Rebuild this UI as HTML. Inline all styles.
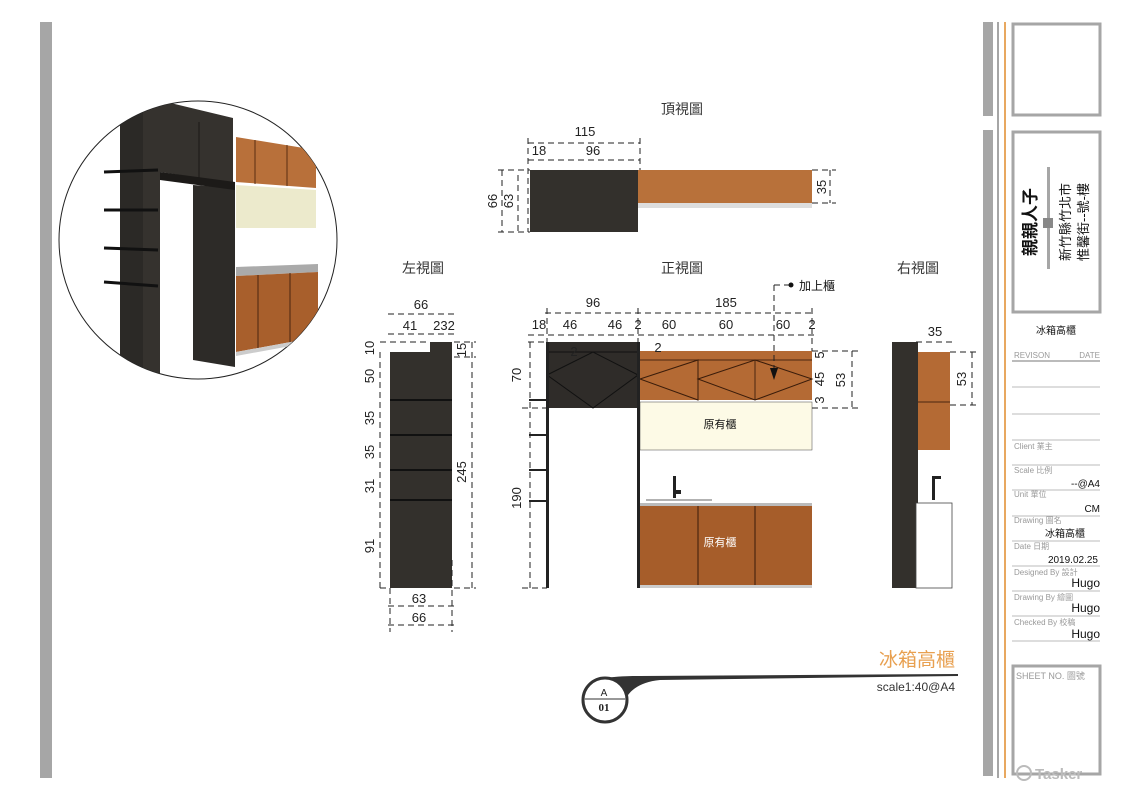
<!DOCTYPE html>
<html><head><meta charset="utf-8"><style>
body{margin:0;background:#fff;}
svg{display:block;font-family:"Liberation Sans","Noto Sans CJK TC",sans-serif;}
</style></head><body>
<svg width="1122" height="793" viewBox="0 0 1122 793" xmlns="http://www.w3.org/2000/svg">
<defs>
<clipPath id="cc"><circle cx="198" cy="240" r="139"/></clipPath>
</defs>
<rect width="1122" height="793" fill="#fff"/>
<rect x="40" y="22" width="12" height="756" fill="#a6a6a6"/>
<rect x="983" y="22" width="10" height="94" fill="#a6a6a6"/>
<rect x="983" y="130" width="10" height="646" fill="#a6a6a6"/>
<rect x="997" y="22" width="2" height="756" fill="#a6a6a6"/>
<rect x="1004" y="22" width="2" height="756" fill="#e8a860"/>
<rect x="1013" y="24" width="87" height="91" fill="none" stroke="#a6a6a6" stroke-width="3"/>
<rect x="1013" y="132" width="87" height="180" fill="none" stroke="#a6a6a6" stroke-width="3"/>
<rect x="1047" y="167" width="3" height="102" fill="#a6a6a6"/>
<rect x="1043" y="218" width="10" height="10" fill="#888"/>
<text transform="translate(1036,222) rotate(-90)" text-anchor="middle" font-size="17" font-weight="bold" fill="#111">親親人子</text>
<text transform="translate(1070,222) rotate(-90)" text-anchor="middle" font-size="13" fill="#111">新竹縣竹北市</text>
<text transform="translate(1088,222) rotate(-90)" text-anchor="middle" font-size="13" fill="#111">惟馨街--號-樓</text>
<text x="1056" y="334" text-anchor="middle" font-size="10" fill="#111">冰箱高櫃</text>
<g font-size="8" fill="#999">
<text x="1014" y="358">REVISON</text><text x="1100" y="358" text-anchor="end">DATE</text>
<text x="1014" y="449">Client  業主</text>
<text x="1014" y="473">Scale   比例</text>
<text x="1014" y="497">Unit    單位</text>
<text x="1014" y="523">Drawing 圖名</text>
<text x="1014" y="549">Date    日期</text>
<text x="1014" y="575">Designed By 設計</text>
<text x="1014" y="600">Drawing By 繪圖</text>
<text x="1014" y="625">Checked By 校稿</text>
</g>
<g font-size="10" fill="#111" text-anchor="end">
<text x="1100" y="487">--@A4</text>
<text x="1100" y="512">CM</text>
<text x="1085" y="537">冰箱高櫃</text>
<text x="1098" y="563">2019.02.25</text>
<text x="1100" y="587" font-size="12">Hugo</text>
<text x="1100" y="612" font-size="12">Hugo</text>
<text x="1100" y="638" font-size="12">Hugo</text>
</g>
<g stroke="#bbb" stroke-width="1">
<line x1="1012" y1="361" x2="1100" y2="361" stroke-width="2"/>
<line x1="1012" y1="387" x2="1100" y2="387"/><line x1="1012" y1="414" x2="1100" y2="414"/>
<line x1="1012" y1="440" x2="1100" y2="440"/><line x1="1012" y1="465" x2="1100" y2="465"/>
<line x1="1012" y1="490" x2="1100" y2="490"/><line x1="1012" y1="516" x2="1100" y2="516"/>
<line x1="1012" y1="541" x2="1100" y2="541"/><line x1="1012" y1="566" x2="1100" y2="566"/>
<line x1="1012" y1="591" x2="1100" y2="591"/><line x1="1012" y1="616" x2="1100" y2="616"/>
<line x1="1012" y1="641" x2="1100" y2="641"/>
</g>
<rect x="1013" y="666" width="87" height="108" fill="none" stroke="#a6a6a6" stroke-width="3"/>
<text x="1016" y="679" font-size="9" fill="#999">SHEET NO. 圖號</text>
<text x="1035" y="779" font-size="15" font-weight="bold" fill="#bbb">Tasker</text>
<circle cx="1024" cy="773" r="7" fill="none" stroke="#bbb" stroke-width="2"/>

<!-- circle perspective -->
<circle cx="198" cy="240" r="139" fill="#fff" stroke="#222" stroke-width="1"/>
<g clip-path="url(#cc)">
<polygon points="236,137 316,150 316,188 236,182" fill="#b8703a"/>
<line x1="255" y1="140" x2="255" y2="184" stroke="#5a2e12"/><line x1="287" y1="145" x2="287" y2="186" stroke="#5a2e12"/>
<polygon points="236,185 316,190 316,228 236,228" fill="#eceacc"/>
<polygon points="236,267 318,264 318,272 236,276" fill="#aaa"/>
<polygon points="236,276 318,272 318,337 236,352" fill="#a85f2c"/>
<line x1="258" y1="275" x2="258" y2="348" stroke="#4a2510"/><line x1="290" y1="273" x2="290" y2="343" stroke="#4a2510"/>
<polygon points="236,352 318,337 318,341 236,356" fill="#ccc"/>
<polygon points="120,123 143,112 143,385 160,390 120,380" fill="#2b2926"/>
<polygon points="143,103 158,100 233,118 233,183 160,172 160,390 143,385" fill="#35322e"/>
<polygon points="193,185 235,188 235,367 193,360" fill="#2d2b28"/>
<polygon points="160,172 235,182 235,190 160,180" fill="#1c1a18"/>
<line x1="199" y1="122" x2="199" y2="178" stroke="#1a1816"/>
<g stroke="#111" stroke-width="3"><line x1="104" y1="172" x2="158" y2="170"/><line x1="104" y1="210" x2="158" y2="210"/><line x1="104" y1="248" x2="158" y2="250"/><line x1="104" y1="282" x2="158" y2="286"/></g>
</g>

<g font-size="14" fill="#333" text-anchor="middle">
<text x="682" y="114">頂視圖</text><text x="682" y="273">正視圖</text>
<text x="423" y="273">左視圖</text><text x="918" y="273">右視圖</text>
</g>

<!-- TOP VIEW -->
<rect x="530" y="170" width="108" height="62" fill="#33302c"/>
<rect x="638" y="170" width="174" height="33" fill="#b8713a"/>
<rect x="638" y="203" width="174" height="5" fill="#ddd"/>
<g stroke="#222" stroke-width="1" stroke-dasharray="6,4" fill="none">
<line x1="528" y1="143" x2="640" y2="143"/><line x1="528" y1="160" x2="640" y2="160"/>
<line x1="528" y1="138" x2="528" y2="232"/><line x1="640" y1="138" x2="640" y2="170"/>
<line x1="498" y1="170" x2="530" y2="170"/><line x1="498" y1="232" x2="530" y2="232"/>
<line x1="502" y1="170" x2="502" y2="232"/><line x1="518" y1="175" x2="518" y2="232"/>
<line x1="812" y1="170" x2="836" y2="170"/><line x1="812" y1="203" x2="836" y2="203"/><line x1="830" y1="170" x2="830" y2="203"/>
</g>
<g font-size="13" fill="#222" text-anchor="middle">
<text x="585" y="136">115</text><text x="539" y="155">18</text><text x="593" y="155">96</text>
<text transform="translate(497,201) rotate(-90)">66</text><text transform="translate(513,201) rotate(-90)">63</text>
<text transform="translate(826,187) rotate(-90)">35</text>
</g>

<!-- FRONT VIEW -->
<rect x="547" y="342" width="91" height="66" fill="#2f2c29"/>
<polygon points="547,375 593,352 638,375 593,408" fill="none" stroke="#111"/>
<line x1="547" y1="352" x2="638" y2="352" stroke="#111"/>
<rect x="640" y="351" width="172" height="49" fill="#b46a34"/>
<line x1="640" y1="360" x2="812" y2="360" stroke="#4a2510"/>
<line x1="698" y1="360" x2="698" y2="400" stroke="#4a2510"/><line x1="755" y1="360" x2="755" y2="400" stroke="#4a2510"/>
<polygon points="640,379 698,360 698,400" fill="none" stroke="#3a1c0a"/>
<polygon points="698,379 755,360 812,379 755,400" fill="none" stroke="#3a1c0a"/>
<rect x="640" y="402" width="172" height="48" fill="#fdfae6" stroke="#444" stroke-width="0.5"/>
<text x="720" y="428" font-size="11" text-anchor="middle" fill="#111">原有櫃</text>
<line x1="646" y1="500" x2="712" y2="500" stroke="#666"/>
<rect x="673" y="476" width="3" height="22" fill="#222"/><rect x="673" y="490" width="8" height="4" fill="#222"/>
<rect x="640" y="503" width="172" height="3" fill="#bbb"/>
<rect x="640" y="506" width="172" height="79" fill="#a65d2a"/>
<line x1="698" y1="506" x2="698" y2="585" stroke="#3a1c0a"/><line x1="755" y1="506" x2="755" y2="585" stroke="#3a1c0a"/>
<rect x="640" y="585" width="172" height="3" fill="#ccc"/>
<text x="720" y="546" font-size="11" text-anchor="middle" fill="#fff">原有櫃</text>
<rect x="546" y="342" width="3" height="246" fill="#222"/>
<rect x="637" y="342" width="3" height="246" fill="#222"/>
<g stroke="#222" stroke-width="2"><line x1="529" y1="400" x2="547" y2="400"/><line x1="529" y1="435" x2="547" y2="435"/><line x1="529" y1="470" x2="547" y2="470"/><line x1="529" y1="501" x2="547" y2="501"/></g>
<g stroke="#222" stroke-width="1" stroke-dasharray="6,4" fill="none">
<line x1="545" y1="313" x2="815" y2="313"/><line x1="528" y1="335" x2="815" y2="335"/>
<line x1="547" y1="308" x2="547" y2="342"/><line x1="638" y1="308" x2="638" y2="342"/><line x1="812" y1="308" x2="812" y2="351"/>
<line x1="528" y1="342" x2="547" y2="342"/><line x1="522" y1="408" x2="547" y2="408"/><line x1="522" y1="588" x2="547" y2="588"/>
<line x1="530" y1="342" x2="530" y2="588"/>
<line x1="774" y1="285" x2="774" y2="370"/><line x1="774" y1="285" x2="790" y2="285"/>
<line x1="812" y1="351" x2="858" y2="351"/><line x1="812" y1="408" x2="858" y2="408"/><line x1="852" y1="351" x2="852" y2="408"/>
</g>
<polygon points="770,368 778,368 774,380" fill="#111"/><circle cx="791" cy="285" r="2.5" fill="#111"/>
<text x="799" y="290" font-size="12" fill="#111">加上櫃</text>
<g font-size="13" fill="#222" text-anchor="middle">
<text x="593" y="307">96</text><text x="726" y="307">185</text>
<text x="539" y="329">18</text><text x="570" y="329">46</text><text x="615" y="329">46</text><text x="638" y="329">2</text>
<text x="669" y="329">60</text><text x="726" y="329">60</text><text x="783" y="329">60</text><text x="812" y="329">2</text>
<text x="574" y="356">2</text><text x="658" y="352">2</text>
<text transform="translate(521,375) rotate(-90)">70</text><text transform="translate(521,498) rotate(-90)">190</text>
<text transform="translate(824,355) rotate(-90)">5</text><text transform="translate(824,379) rotate(-90)">45</text>
<text transform="translate(824,400) rotate(-90)">3</text><text transform="translate(845,380) rotate(-90)">53</text>
</g>

<!-- LEFT VIEW -->
<polygon points="390,352 430,352 430,342 452,342 452,588 390,588" fill="#33302c"/>
<g stroke="#111" stroke-width="2"><line x1="390" y1="400" x2="452" y2="400"/><line x1="390" y1="435" x2="452" y2="435"/><line x1="390" y1="470" x2="452" y2="470"/><line x1="390" y1="500" x2="452" y2="500"/></g>
<g stroke="#222" stroke-width="1" stroke-dasharray="6,4" fill="none">
<line x1="388" y1="314" x2="454" y2="314"/><line x1="388" y1="334" x2="454" y2="334"/>
<line x1="380" y1="342" x2="430" y2="342"/><line x1="380" y1="352" x2="380" y2="588"/><line x1="380" y1="588" x2="390" y2="588"/>
<line x1="454" y1="342" x2="476" y2="342"/><line x1="454" y1="357" x2="476" y2="357"/>
<line x1="472" y1="342" x2="472" y2="588"/><line x1="454" y1="588" x2="476" y2="588"/>
<line x1="388" y1="606" x2="454" y2="606"/><line x1="388" y1="625" x2="454" y2="625"/>
<line x1="390" y1="588" x2="390" y2="632"/><line x1="452" y1="560" x2="452" y2="632"/>
</g>
<g font-size="13" fill="#222" text-anchor="middle">
<text x="421" y="309">66</text><text x="410" y="330">41</text><text x="444" y="330">232</text>
<text transform="translate(374,348) rotate(-90)">10</text><text transform="translate(466,350) rotate(-90)">15</text>
<text transform="translate(374,376) rotate(-90)">50</text><text transform="translate(374,418) rotate(-90)">35</text>
<text transform="translate(374,452) rotate(-90)">35</text><text transform="translate(374,486) rotate(-90)">31</text>
<text transform="translate(374,546) rotate(-90)">91</text><text transform="translate(466,472) rotate(-90)">245</text>
<text x="419" y="603">63</text><text x="419" y="622">66</text>
</g>

<!-- RIGHT VIEW -->
<rect x="892" y="342" width="26" height="246" fill="#33302c"/>
<rect x="918" y="352" width="32" height="98" fill="#b46a34"/>
<line x1="918" y1="402" x2="950" y2="402" stroke="#4a2510"/>
<rect x="916" y="503" width="36" height="85" fill="#fff" stroke="#444" stroke-width="0.8"/>
<rect x="932" y="478" width="3" height="22" fill="#222"/><rect x="932" y="476" width="9" height="3" fill="#222"/>
<g stroke="#222" stroke-width="1" stroke-dasharray="6,4" fill="none">
<line x1="916" y1="342" x2="952" y2="342"/><line x1="950" y1="352" x2="978" y2="352"/><line x1="950" y1="405" x2="978" y2="405"/><line x1="972" y1="352" x2="972" y2="405"/>
</g>
<g font-size="13" fill="#222" text-anchor="middle">
<text x="935" y="336">35</text><text transform="translate(966,379) rotate(-90)">53</text>
</g>

<!-- bottom title -->
<path d="M605,678 C620,676 630,676 640,676 L958,674 L958,676 L660,680 C640,682 630,690 625,700 Z" fill="#333"/>
<circle cx="605" cy="700" r="22" fill="#fff" stroke="#333" stroke-width="3"/>
<line x1="584" y1="699" x2="626" y2="699" stroke="#777" stroke-width="1.5"/>
<text x="604" y="696" font-size="10" text-anchor="middle" fill="#222">A</text>
<text x="604" y="711" font-size="11" font-weight="bold" text-anchor="middle" fill="#222" font-family="Liberation Serif,serif">01</text>
<text x="955" y="666" font-size="19" text-anchor="end" fill="#e8a050">冰箱高櫃</text>
<text x="955" y="691" font-size="12" text-anchor="end" fill="#333">scale1:40@A4</text>
</svg>
</body></html>
